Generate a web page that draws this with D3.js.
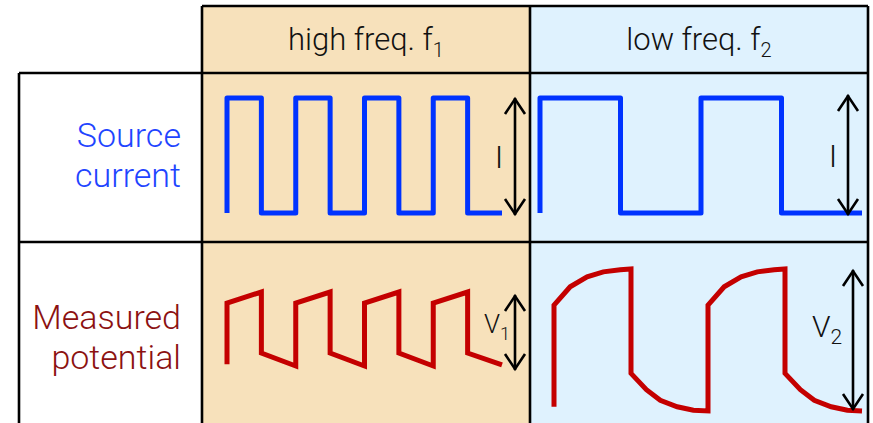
<!DOCTYPE html>
<html>
<head>
<meta charset="utf-8">
<script src="https://cdn.jsdelivr.net/npm/d3@7"></script>
<style>
  html, body { margin: 0; padding: 0; background: #fff; }
  svg { display: block; font-family: Roboto, "Liberation Sans", sans-serif; font-weight: 300; }
</style>
</head>
<body>
<div id="chart"></div>
<script>
// ---- data ----
const columnLabels = ['high freq. f', 'low freq. f'];
const columnSubs = ['1', '2'];
const rowLabels = [['Source', 'current'], ['Measured', 'potential']];
const arrowLabels = ['I', 'I', 'V', 'V'];
const arrowSubs = ['', '', '1', '2'];

// waveforms as [time, level] pairs, time in half-periods
const currentHigh = [[0,-1],[0,1],[1,1],[1,-1],[2,-1],[2,1],[3,1],[3,-1],[4,-1],[4,1],
  [5,1],[5,-1],[6,-1],[6,1],[7,1],[7,-1],[8,-1]];
const currentLow = [[0,-1],[0,1],[1,1],[1,-1],[2,-1],[2,1],[3,1],[3,-1],[4,-1]];
const potentialHigh = [[0,-0.95],[0,0.7],[1,1],[1,-0.65],[2,-1],[2,0.7],[3,1],[3,-0.65],
  [4,-1],[4,0.7],[5,1],[5,-0.65],[6,-1],[6,0.7],[7,1],[7,-0.65],[8,-0.97]];
const potentialLow = [[0,-0.94],[0,0.49],[0.21,0.75],[0.43,0.89],[0.64,0.96],[0.86,0.99],[1,1],
  [1,-0.47],[1.2,-0.7],[1.38,-0.85],[1.6,-0.94],[1.81,-0.99],[2,-1],
  [2,0.49],[2.21,0.75],[2.43,0.89],[2.64,0.96],[2.86,0.99],[3,1],
  [3,-0.47],[3.2,-0.7],[3.38,-0.85],[3.6,-0.94],[3.81,-0.99],[4,-1]];

// ---- layout ----
const W = 873, H = 423;
const GRID = {
  xs: [19, 202, 530, 868],
  ys: [6, 73, 242, 440],
  stroke: 2.6,
};
const FILLS = ['#f7e1bb', '#dff2fe'];
const BLUE_LINE = '#0033ff', BLUE_TEXT = '#1f45ff';
const RED_LINE = '#c40000', RED_TEXT = '#8c1111';

const PANELS = [
  { data: currentHigh, t: [0, 8], x: [227, 502], y: [213, 98], color: BLUE_LINE, join: 'round',
    arrowX: 515, arrowPad: [2, 0], labelX: 499, labelY: 168, anchor: 'middle', size: 32 },
  { data: currentLow, t: [0, 4], x: [540, 862], y: [213, 98], color: BLUE_LINE, join: 'round',
    arrowX: 848, arrowPad: [2, -3], labelX: 833, labelY: 167, anchor: 'middle', size: 32 },
  { data: potentialHigh, t: [0, 8], x: [227, 502], y: [366, 292], color: RED_LINE, join: 'miter',
    arrowX: 515, arrowPad: [4, 3], labelX: 484, labelY: 333, anchor: 'start', size: 26 },
  { data: potentialLow, t: [0, 4], x: [554, 862], y: [411, 269], color: RED_LINE, join: 'miter',
    arrowX: 853, arrowPad: [-1, 1], labelX: 812, labelY: 337, anchor: 'start', size: 30 },
];

const svg = d3.select('#chart').append('svg')
  .attr('width', W)
  .attr('height', H);

// column fills
columnLabels.forEach((c, i) => {
  svg.append('rect')
    .attr('x', GRID.xs[i + 1])
    .attr('y', GRID.ys[0])
    .attr('width', GRID.xs[i + 2] - GRID.xs[i + 1])
    .attr('height', H - GRID.ys[0] + 20)
    .attr('fill', FILLS[i]);
});

// header text
columnLabels.forEach((c, i) => {
  const t = svg.append('text')
    .attr('x', (GRID.xs[i + 1] + GRID.xs[i + 2]) / 2)
    .attr('y', 50)
    .attr('text-anchor', 'middle')
    .attr('font-size', 31)
    .attr('fill', '#111');
  t.append('tspan').text(c);
  t.append('tspan').attr('dy', 7).attr('font-size', 20).text(columnSubs[i]);
});

// row labels
rowLabels.forEach((lines, r) => {
  const base = r === 0 ? 147 : 329;
  svg.append('text')
    .attr('text-anchor', 'end')
    .attr('font-size', 34)
    .attr('fill', r === 0 ? BLUE_TEXT : RED_TEXT)
    .selectAll('tspan')
    .data(lines)
    .join('tspan')
    .attr('x', 181)
    .attr('y', (d, i) => base + i * 40)
    .text(d => d);
});

// waveforms + arrows
PANELS.forEach((p, i) => {
  const x = d3.scaleLinear().domain(p.t).range(p.x);
  const y = d3.scaleLinear().domain([-1, 1]).range(p.y);
  const line = d3.line().x(d => x(d[0])).y(d => y(d[1]));

  svg.append('path')
    .attr('d', line(p.data))
    .attr('fill', 'none')
    .attr('stroke', p.color)
    .attr('stroke-width', 5)
    .attr('stroke-linejoin', p.join)
    .attr('stroke-linecap', 'butt');

  const y0 = y(-1) + p.arrowPad[0], y1 = y(1) + p.arrowPad[1];
  const g = svg.append('g')
    .attr('fill', 'none')
    .attr('stroke', '#000')
    .attr('stroke-width', 2.6);
  g.append('line')
    .attr('x1', p.arrowX).attr('x2', p.arrowX)
    .attr('y1', y0).attr('y2', y1);
  g.append('path')
    .attr('d', `M${p.arrowX - 10},${y1 + 16}L${p.arrowX},${y1 + 1}L${p.arrowX + 10},${y1 + 16}`);
  g.append('path')
    .attr('d', `M${p.arrowX - 10},${y0 - 16}L${p.arrowX},${y0 - 1}L${p.arrowX + 10},${y0 - 16}`);

  const t = svg.append('text')
    .attr('x', p.labelX)
    .attr('y', p.labelY)
    .attr('text-anchor', p.anchor)
    .attr('font-size', p.size)
    .attr('fill', '#111');
  t.append('tspan').text(arrowLabels[i]);
  if (arrowSubs[i]) {
    t.append('tspan').attr('dy', 7).attr('font-size', p.size * 0.7).text(arrowSubs[i]);
  }
});

// grid lines
const gl = svg.append('g')
  .attr('stroke', '#000')
  .attr('stroke-width', GRID.stroke)
  .attr('fill', 'none');
gl.append('line').attr('x1', GRID.xs[1]).attr('x2', GRID.xs[3]).attr('y1', GRID.ys[0]).attr('y2', GRID.ys[0]);
[GRID.ys[1], GRID.ys[2]].forEach(yy => {
  gl.append('line').attr('x1', GRID.xs[0]).attr('x2', GRID.xs[3]).attr('y1', yy).attr('y2', yy);
});
gl.append('line').attr('x1', GRID.xs[0]).attr('x2', GRID.xs[0]).attr('y1', GRID.ys[1]).attr('y2', GRID.ys[3]);
GRID.xs.slice(1).forEach(xx => {
  gl.append('line').attr('x1', xx).attr('x2', xx).attr('y1', GRID.ys[0]).attr('y2', GRID.ys[3]);
});
</script>
</body>
</html>
